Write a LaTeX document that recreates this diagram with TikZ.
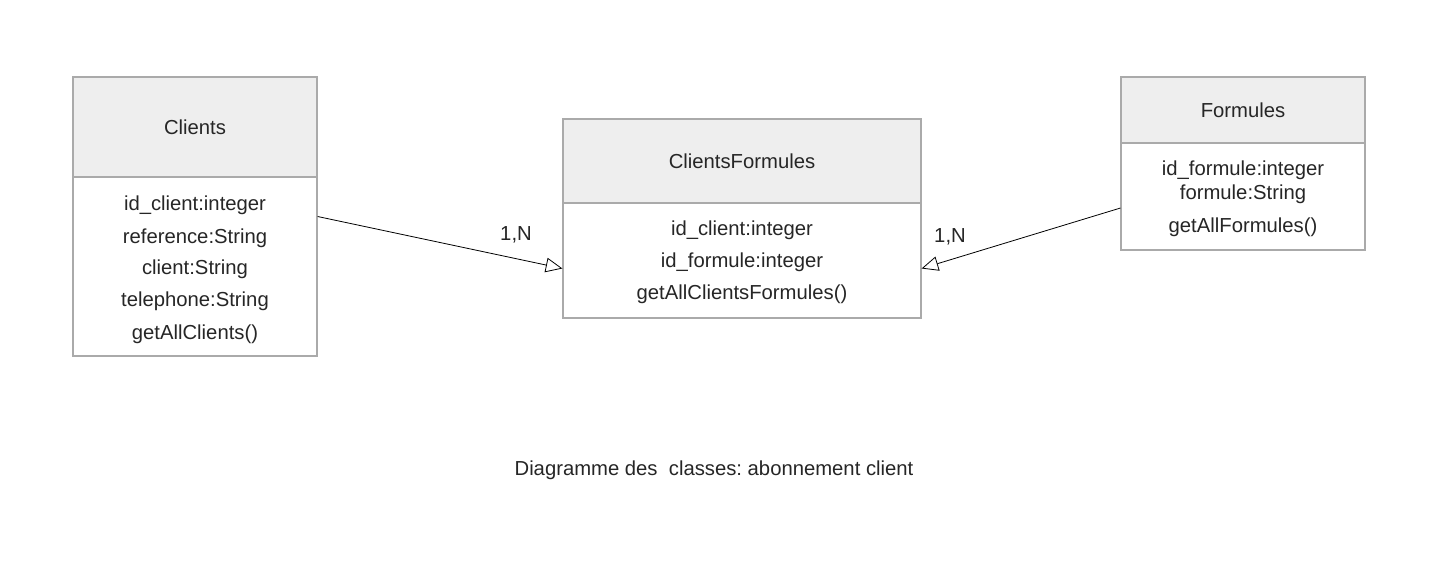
\documentclass[tikz,border=0pt]{standalone}
\usepackage{fontspec}
\setmainfont{Liberation Sans}
\usetikzlibrary{arrows.meta}
\definecolor{boxline}{HTML}{AAAAAA}
\definecolor{headfill}{HTML}{EEEEEE}
\definecolor{txt}{HTML}{262626}
\frenchspacing
\begin{document}
\begin{tikzpicture}[x=0.75pt,y=-0.75pt,
  classbox/.style={draw=boxline, line width=0.9pt, inner sep=0pt, fill=none},
  lbl/.style={inner sep=0pt, text=txt, anchor=base, font=\fontsize{15.2pt}{17pt}\selectfont},
  assoc/.style={draw=black, line width=0.6pt, -{Triangle[open, length=12.5pt, width=11pt, line width=0.6pt]}}]
\useasboundingbox (0,0) rectangle (1454,564);
\fill[white] (0,0) rectangle (1454,564);
% header fills
\fill[headfill] (73,77) rectangle (317,177);
\fill[headfill] (563,119) rectangle (921,203);
\fill[headfill] (1121,77) rectangle (1365,143);
% boxes
\node[classbox, minimum width=183pt, minimum height=209.25pt] (clients) at (195,216.5) {};
\node[classbox, minimum width=268.5pt, minimum height=149.25pt] (cf) at (742,218.5) {};
\node[classbox, minimum width=183pt, minimum height=129.75pt] (formules) at (1243,163.5) {};
% dividers
\draw[boxline, line width=0.9pt] (clients.west |- 0,177) -- (clients.east |- 0,177);
\draw[boxline, line width=0.9pt] (cf.west |- 0,203) -- (cf.east |- 0,203);
\draw[boxline, line width=0.9pt] (formules.west |- 0,143) -- (formules.east |- 0,143);
% Clients text (baselines)
\node[lbl] (tclients) at (195,134) {Clients};
\node[lbl] (c1) at (195,210) {id\_client:integer};
\node[lbl] (c2) at (195,243) {reference:String};
\node[lbl] (c3) at (195,274) {client:String};
\node[lbl] (c4) at (195,306) {telephone:String};
\node[lbl] (c5) at (195,339) {getAllClients()};
% ClientsFormules text
\node[lbl] (tcf) at (742,168) {ClientsFormules};
\node[lbl] (f1) at (742,235) {id\_client:integer};
\node[lbl] (f2) at (742,267) {id\_formule:integer};
\node[lbl] (f3) at (742,299) {getAllClientsFormules()};
% Formules text
\node[lbl] (tformules) at (1243,117) {Formules};
\node[lbl] (g1) at (1243,175) {id\_formule:integer};
\node[lbl] (g2) at (1243,199) {formule:String};
\node[lbl] (g3) at (1243,232) {getAllFormules()};
% connectors
\coordinate (cfin) at ([yshift=-37.5pt]cf.west);
\coordinate (cfin2) at ([yshift=-37.5pt]cf.east);
\coordinate (fout) at ([yshift=-33.4pt]formules.west);
\draw[assoc] (clients.east) -- (cfin);
\draw[assoc] (fout) -- (cfin2);
\node[lbl] (m1) at (516,240) {1,N};
\node[lbl] (m2) at (950,242) {1,N};
% caption
\node[lbl] (caption) at (714,475) {Diagramme des\ \ classes: abonnement client};
\end{tikzpicture}
\end{document}
